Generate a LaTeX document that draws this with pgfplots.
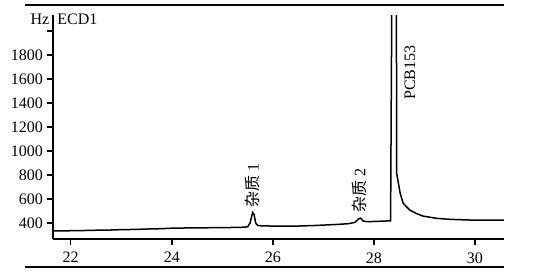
\documentclass[border=0pt]{standalone}
\usepackage{fontspec}
\setmainfont{Liberation Serif}
\newfontfamily\cjk{Noto Sans CJK SC}
\usepackage{pgfplots}
\pgfplotsset{compat=1.18}
\begin{document}
\begin{tikzpicture}[x=0.6pt,y=0.6pt]
\begin{axis}[
  name=ax,
  at={(0,0)}, anchor=south west,
  scale only axis, width=270.6pt, height=134.4pt,
  xmin=21.65, xmax=30.574, ymin=267, ymax=2133,
  axis x line*=bottom, axis y line*=left,
  axis line style={line width=0.9pt, -},
  every tick/.style={line width=0.9pt, black},
  tick align=outside, major tick length=3.5pt,
  xtick={22,24,26,28,30},
  ytick={400,600,800,1000,1200,1400,1600,1800,2000},
  yticklabels={400,600,800,1000,1200,1400,1600,1800,},
  tick label style={font=\fontsize{9.6}{11}\selectfont},
  /pgf/number format/assume math mode=true,
  /pgf/number format/1000 sep={},
  yticklabel style={xshift=1pt},
  xticklabel style={yshift=-1pt},
  unbounded coords=jump,
  clip mode=individual,
]
\addplot[black, line width=0.9pt] coordinates {
(21.65,335) (21.8,334) (22.0,336) (22.3,338) (22.5,340) (22.8,342) (23.0,345)
(23.3,347) (23.5,350) (23.8,353) (24.0,357) (24.3,359) (24.5,360) (24.8,361)
(25.0,362) (25.2,363) (25.4,365) (25.5,368) (25.55,400) (25.60,489) (25.63,470)
(25.66,400) (25.70,380) (25.8,376) (26.0,375) (26.3,374) (26.5,375) (26.8,379)
(27.0,383) (27.3,389) (27.5,395) (27.62,405) (27.70,436) (27.74,440) (27.78,418)
(27.85,412) (28.0,413) (28.2,416) (28.33,419) (28.34,1200) (28.355,2300)
(28.40,nan)
(28.445,2300) (28.45,814) (28.52,647) (28.58,564) (28.71,508) (28.85,478)
(28.97,458) (29.24,439) (29.5,431) (29.90,425) (30.2,424) (30.574,425)
};
\node[rotate=90, anchor=west, inner sep=0pt, font=\fontsize{9.6}{11}\selectfont]
  at (axis cs:25.60,525) {{\cjk 杂质} 1};
\node[rotate=90, anchor=west, inner sep=0pt, font=\fontsize{9.6}{11}\selectfont]
  at (axis cs:27.71,483) {{\cjk 杂质} 2};
\node[rotate=90, anchor=west, inner sep=0pt, font=\fontsize{9.6}{11}\selectfont]
  at (axis cs:28.71,1425) {PCB153};
\end{axis}
\node[anchor=east, font=\fontsize{9.6}{11}\selectfont, inner sep=0pt]
  at (-3.5,220) {Hz};
\node[anchor=west, font=\fontsize{9.6}{11}\selectfont, inner sep=0pt]
  at (4,220) {ECD1};
\draw[line width=0.9pt] (-28,234) -- (451,234);
\draw[line width=0.9pt] (-28,-28) -- (451,-28);
\path (-53,-39) rectangle (500,239);
\end{tikzpicture}
\end{document}
